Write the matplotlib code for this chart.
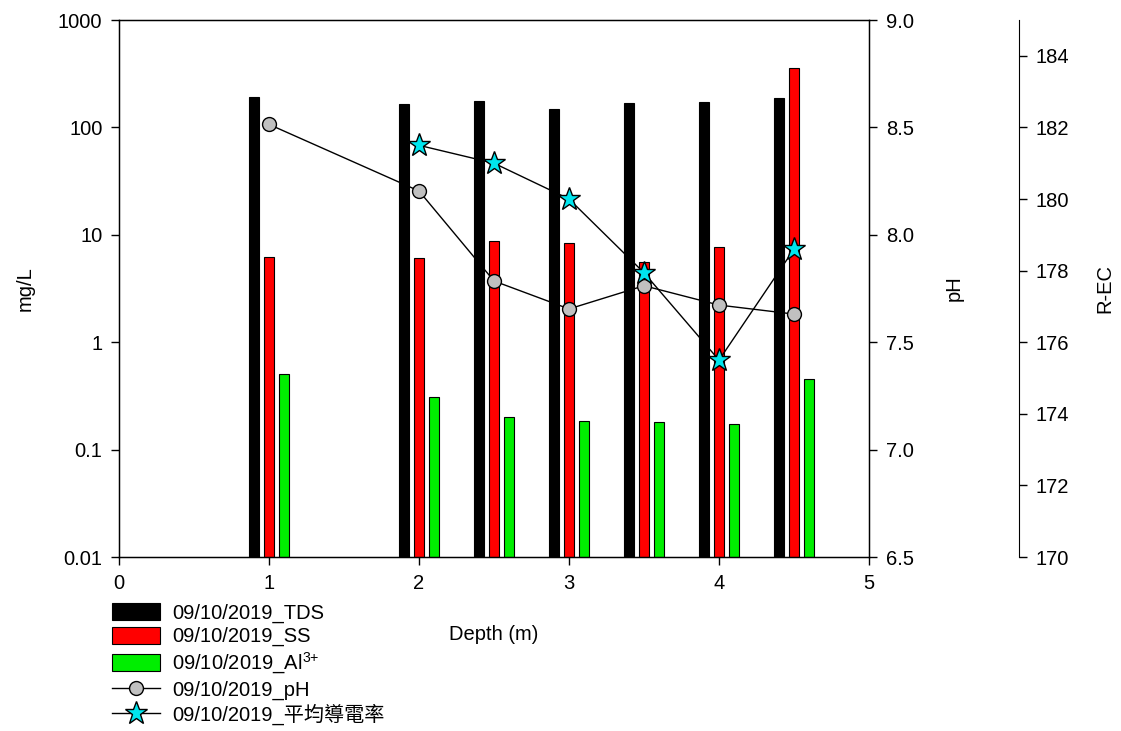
import numpy as np
import matplotlib.pyplot as plt
from matplotlib.ticker import FixedLocator, NullLocator, FixedFormatter

plt.rcParams['font.family'] = ['Liberation Sans', 'Noto Sans CJK TC']
plt.rcParams['font.size'] = 14.5
plt.rcParams['mathtext.default'] = 'regular'

# data
depth = [1, 2, 2.5, 3, 3.5, 4, 4.5]
tds = [193, 164, 175, 147, 168, 173, 187]
ss = [6.25, 6.04, 8.7, 8.4, 5.55, 7.75, 355]
al = [0.51, 0.31, 0.20, 0.185, 0.18, 0.172, 0.454]
ph = [8.514, 8.204, 7.785, 7.655, 7.763, 7.673, 7.631]
ec_depth = [2, 2.5, 3, 3.5, 4, 4.5]
ec = [181.5, 181.0, 180.0, 177.94, 175.5, 178.6]

labels = ['09/10/2019_TDS', '09/10/2019_SS', '09/10/2019_Al$^{3{+}}$',
          '09/10/2019_pH', '09/10/2019_平均導電率']

fig = plt.figure(figsize=(11.21, 7.31), dpi=100)
ax = fig.add_axes([0.1062, 0.238, 0.669, 0.7346])

x = np.array(depth)
w = 0.07
b1 = ax.bar(x - 0.1, tds, w, color='black', edgecolor='black', linewidth=0.8)
b2 = ax.bar(x, ss, w, color='#ff0000', edgecolor='black', linewidth=0.8)
b3 = ax.bar(x + 0.1, al, w, color='#00ee00', edgecolor='black', linewidth=0.8)
ax.set_yscale('log')
ax.set_ylim(0.01, 1000)
ax.set_xlim(0, 5)
ax.yaxis.set_major_locator(FixedLocator([0.01, 0.1, 1, 10, 100, 1000]))
ax.yaxis.set_major_formatter(FixedFormatter(['0.01', '0.1', '1', '10', '100', '1000']))
ax.yaxis.set_minor_locator(NullLocator())
ax.set_xticks([0, 1, 2, 3, 4, 5])
ax.set_ylabel('mg/L', labelpad=17)
ax.set_xlabel('Depth (m)', labelpad=23)
ax.tick_params(direction='out', length=6, width=1, pad=6)
for s in ax.spines.values():
    s.set_linewidth(1)

ax2 = ax.twinx()
l1, = ax2.plot(depth, ph, color='black', linewidth=1, marker='o', markersize=10,
               markerfacecolor='#c0c0c0', markeredgecolor='black', markeredgewidth=1)
ax2.set_ylim(6.5, 9.0)
ax2.set_yticks([6.5, 7.0, 7.5, 8.0, 8.5, 9.0])
ax2.yaxis.set_major_formatter(plt.FormatStrFormatter('%.1f'))
ax2.set_ylabel('pH', labelpad=22)
ax2.tick_params(direction='out', length=6, width=1, pad=6)

ax3 = ax.twinx()
ax3.spines['right'].set_position(('outward', 108))
ax3.spines['top'].set_visible(False)
ax3.spines['bottom'].set_visible(False)
ax3.spines['left'].set_visible(False)
l2, = ax3.plot(ec_depth, ec, color='black', linewidth=1, marker='*', markersize=17,
               markerfacecolor='#00e5ee', markeredgecolor='black', markeredgewidth=1)
ax3.set_ylim(170, 185)
ax3.set_yticks([170, 172, 174, 176, 178, 180, 182, 184])
ax3.set_ylabel('R-EC', labelpad=19)
ax3.tick_params(direction='out', length=6, width=1, pad=6)

fig.legend([b1, b2, b3, l1, l2], labels, loc='upper left',
           bbox_to_anchor=(0.0999, 0.175), frameon=False, handlelength=2.4,
           handleheight=0.9, handletextpad=0.6, labelspacing=0.21, borderpad=0,
           borderaxespad=0, fontsize=14.5)

fig.savefig('out.png', dpi=100)
